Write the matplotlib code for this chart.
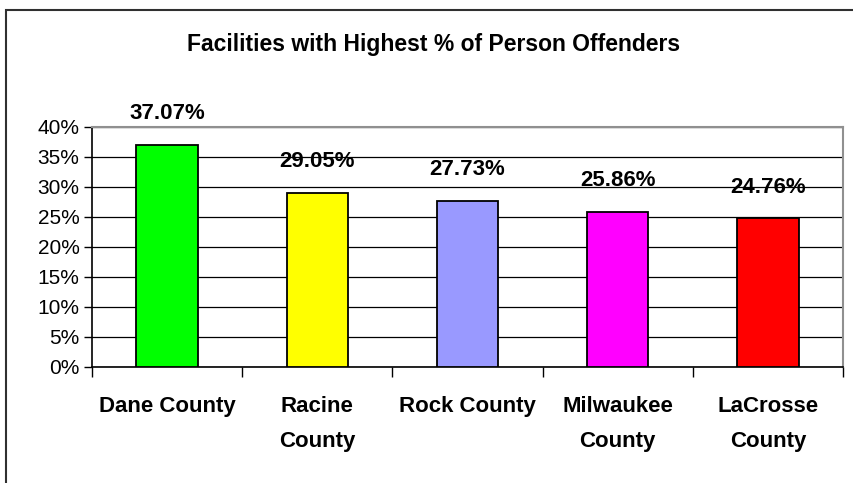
#! -*- coding: utf-8 -*-
import matplotlib
matplotlib.use('Agg')
import matplotlib.pyplot as plt
from matplotlib.patches import Rectangle
from matplotlib.ticker import FuncFormatter, MultipleLocator, FixedLocator

#---------------------------------
# データ
#---------------------------------
categories = ['Dane County', 'Racine\nCounty', 'Rock County', 'Milwaukee\nCounty', 'LaCrosse\nCounty']
values = [37.07, 29.05, 27.73, 25.86, 24.76]
bar_colors = ['#00FF00', '#FFFF00', '#9999FF', '#FF00FF', '#FF0000']
title = 'Facilities with Highest % of Person Offenders'

plt.rcParams['font.family'] = ['Liberation Sans', 'DejaVu Sans']

W, H = 854, 483
fig = plt.figure(figsize=(W / 100, H / 100), dpi=100)

# --- 外枠 ---
fig.patches.append(Rectangle((6 / W, -0.1), 2.0, 1.1 - 10 / H, transform=fig.transFigure,
                             fill=False, edgecolor='#303030', linewidth=1.5))

ax = fig.add_axes([92 / W, (H - 367) / H, (843 - 92) / W, (367 - 127) / H])
x = list(range(len(categories)))
ax.bar(x, values, width=0.41, color=bar_colors, edgecolor='black', linewidth=1.3, zorder=3)

ax.set_xlim(-0.5, len(categories) - 0.5)
ax.set_ylim(0, 40)
ax.yaxis.set_major_locator(MultipleLocator(5))
ax.yaxis.set_major_formatter(FuncFormatter(lambda v, p: '{:.0f}%'.format(v)))
ax.grid(axis='y', color='black', linewidth=0.9, zorder=0)

# --- x軸 ---
ax.set_xticks(x)
ax.set_xticklabels(categories, fontsize=16, fontweight='bold', linespacing=1.85, va='top')
ax.xaxis.set_minor_locator(FixedLocator([i - 0.5 for i in range(len(categories) + 1)]))
ax.tick_params(axis='x', which='major', length=0, pad=21)
ax.tick_params(axis='x', which='minor', length=7, width=1, direction='out', color='black')
ax.tick_params(axis='y', length=6, width=1, direction='out', labelsize=15, pad=3)

for s in ['top', 'right']:
    ax.spines[s].set_color('#909090')
    ax.spines[s].set_linewidth(1.5)
for s in ['left', 'bottom']:
    ax.spines[s].set_color('black')
    ax.spines[s].set_linewidth(1.2)

# --- 値ラベル ---
for xi, v in zip(x, values):
    ax.annotate('{:.2f}%'.format(v), (xi, v), xytext=(0, 15), textcoords='offset points',
                ha='center', va='bottom', fontsize=16, fontweight='bold', annotation_clip=False)

fig.text(434 / W, 1 - 44 / H, title, ha='center', va='center', fontsize=16.5, fontweight='bold')

fig.savefig('out.png', dpi=100)
